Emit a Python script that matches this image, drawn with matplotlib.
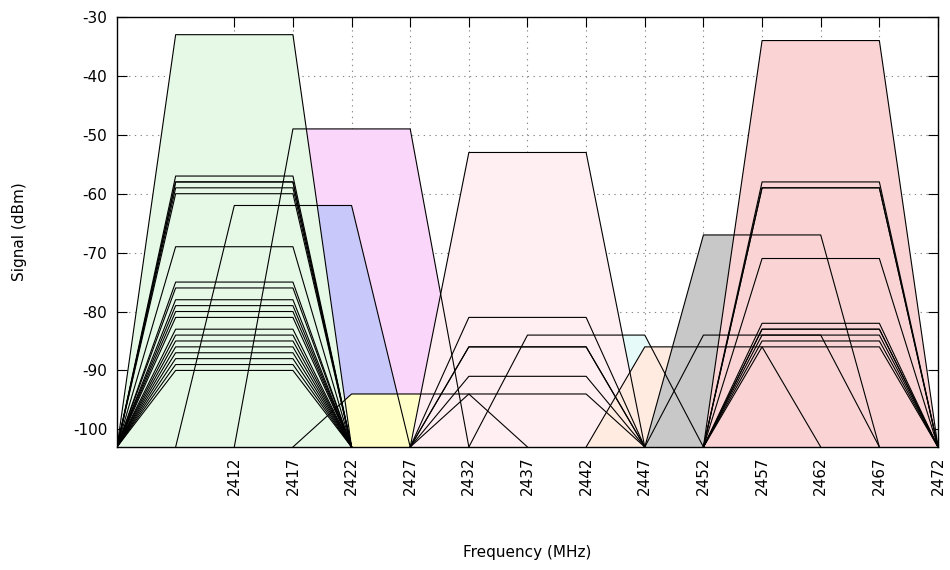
import matplotlib.pyplot as plt

plt.rcParams['axes.unicode_minus'] = False
plt.rcParams['font.family'] = 'DejaVu Sans'

# wifi networks seen in the scan: channel and signal level
ch1 = [-33, -57, -58, -58, -59, -60, -69, -75, -76, -78, -79, -80, -81,
       -83, -84, -85, -86, -87, -88, -89, -90]
ch2 = [-62]
ch3 = [-49]
ch4 = [-94]
ch6 = [-53, -81, -86, -86, -91, -94]
ch7 = [-84]
ch9 = [-86]
ch10 = [-67, -84]
ch11 = [-34, -58, -59, -59, -71, -82, -83, -83, -84, -85, -86]

networks = {1: ch1, 2: ch2, 3: ch3, 4: ch4, 6: ch6, 7: ch7, 9: ch9,
            10: ch10, 11: ch11}

# colour for each channel and drawing order of the fills
colores = {1: '#e6f9e6', 2: '#c8c8fa', 3: '#fad7fa', 4: '#ffffc8',
           6: '#ffeff2', 7: '#e6fafa', 9: '#ffebe0', 10: '#c8c8c8',
           11: '#fad4d4'}
orden = [3, 2, 4, 7, 6, 9, 10, 1, 11]

piso = -103

def trapecio(canal, senal):
    f = 2407 + 5 * canal
    xs = [f - 10, f - 5, f + 5, f + 10]
    ys = [piso, senal, senal, piso]
    return xs, ys

fig = plt.figure(figsize=(9.5, 5.7), dpi=100)
ax = fig.add_axes([117 / 950, 1 - 447 / 570, (938 - 117) / 950, (447 - 17) / 570])

# fills first
z = 2
for canal in orden:
    for s in sorted(networks[canal]):
        xs, ys = trapecio(canal, s)
        ax.fill(xs, ys, color=colores[canal], lw=0, zorder=z)
    z += 1

# outlines on top of every fill
for canal in orden:
    for s in networks[canal]:
        xs, ys = trapecio(canal, s)
        ax.plot(xs, ys, color='black', lw=0.8, zorder=20)

ax.set_xlim(2402, 2472)
ax.set_ylim(piso, -30)
ax.set_xticks(range(2412, 2473, 5))
ax.set_xticklabels([str(v) for v in range(2412, 2473, 5)], rotation=90, fontsize=11)
ax.set_yticks(range(-100, -29, 10))
ax.tick_params(axis='y', labelsize=11)
ax.tick_params(direction='in', length=7, width=0.8, top=True, right=True, pad=7)

ax.grid(True, color='#888888', linestyle=(0, (1.2, 4)), lw=0.8, zorder=0)
ax.set_axisbelow(True)
for s in ax.spines.values():
    s.set_linewidth(1.0)
    s.set_zorder(30)

fig.text(527 / 950, 1 - 553 / 570, 'Frequency (MHz)', ha='center', va='center', fontsize=11)
fig.text(20 / 950, 1 - 232 / 570, 'Signal (dBm)', ha='center', va='center',
         rotation=90, fontsize=11)

plt.savefig('out.png', dpi=100)
